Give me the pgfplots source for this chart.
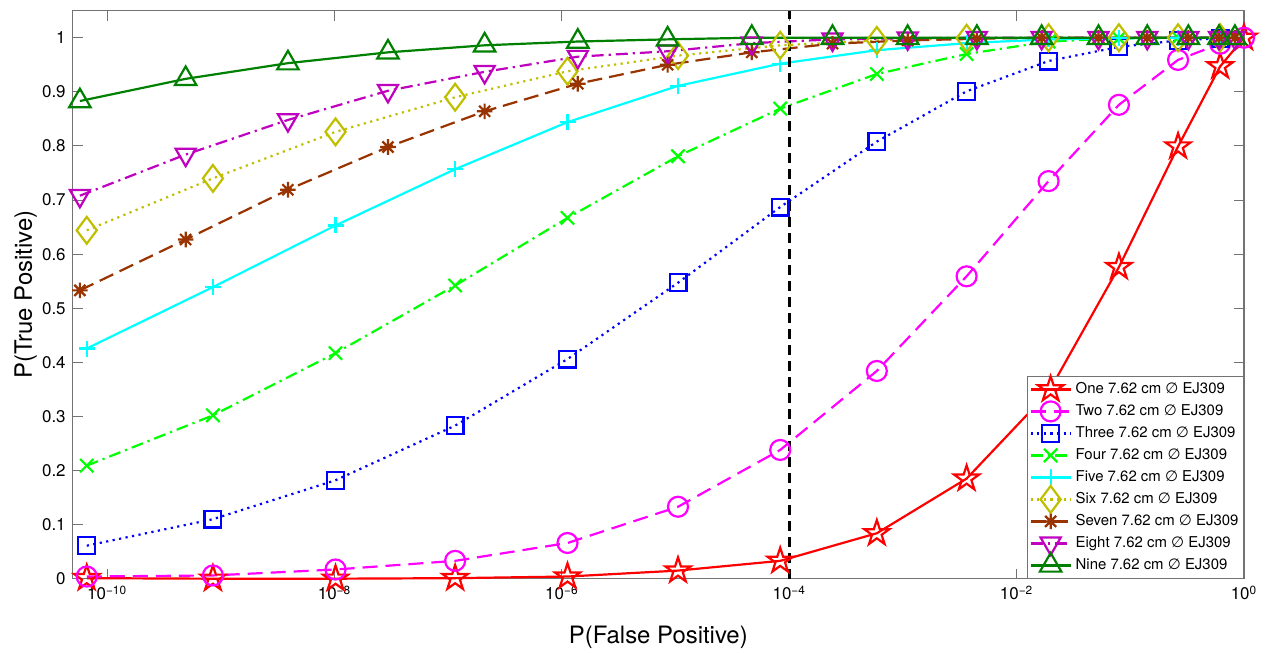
\documentclass[border=0pt]{standalone}
\usepackage{fontspec}
\setmainfont{TeX Gyre Heros}
\newfontfamily\symfont{DejaVu Sans}
\usepackage{pgfplots}
\pgfplotsset{compat=1.18}
\usepackage{pgfplotstable}
\usetikzlibrary{plotmarks}

% outlined five-pointed star
\pgfdeclareplotmark{pentagram}{%
  \pgfpathmoveto{\pgfpointpolar{90}{\pgfplotmarksize}}%
  \pgfpathlineto{\pgfpointpolar{126}{0.382\pgfplotmarksize}}%
  \pgfpathlineto{\pgfpointpolar{162}{\pgfplotmarksize}}%
  \pgfpathlineto{\pgfpointpolar{198}{0.382\pgfplotmarksize}}%
  \pgfpathlineto{\pgfpointpolar{234}{\pgfplotmarksize}}%
  \pgfpathlineto{\pgfpointpolar{270}{0.382\pgfplotmarksize}}%
  \pgfpathlineto{\pgfpointpolar{306}{\pgfplotmarksize}}%
  \pgfpathlineto{\pgfpointpolar{342}{0.382\pgfplotmarksize}}%
  \pgfpathlineto{\pgfpointpolar{18}{\pgfplotmarksize}}%
  \pgfpathlineto{\pgfpointpolar{54}{0.382\pgfplotmarksize}}%
  \pgfpathclose
  \pgfusepathqstroke}
% eight-armed asterisk (plus and cross)
\pgfdeclareplotmark{mstar}{%
  \pgfpathmoveto{\pgfqpoint{-\pgfplotmarksize}{0pt}}\pgfpathlineto{\pgfqpoint{\pgfplotmarksize}{0pt}}%
  \pgfpathmoveto{\pgfqpoint{0pt}{-\pgfplotmarksize}}\pgfpathlineto{\pgfqpoint{0pt}{\pgfplotmarksize}}%
  \pgfpathmoveto{\pgfpointpolar{45}{\pgfplotmarksize}}\pgfpathlineto{\pgfpointpolar{225}{\pgfplotmarksize}}%
  \pgfpathmoveto{\pgfpointpolar{135}{\pgfplotmarksize}}\pgfpathlineto{\pgfpointpolar{315}{\pgfplotmarksize}}%
  \pgfusepathqstroke}

\definecolor{cOne}{rgb}{1,0,0}
\definecolor{cTwo}{rgb}{1,0,1}
\definecolor{cThree}{rgb}{0,0,1}
\definecolor{cFour}{rgb}{0,1,0}
\definecolor{cFive}{rgb}{0,1,1}
\definecolor{cSix}{rgb}{0.75,0.75,0}
\definecolor{cSeven}{rgb}{0.6,0.2,0}
\definecolor{cEight}{rgb}{0.75,0,0.75}
\definecolor{cNine}{rgb}{0,0.5,0}

% detectors One to Six
\pgfplotstableread{
x         one   two   three four  five   six
6.61e-11  0.001 0.004 0.061 0.209 0.4255 0.644
8.51e-10  0.000 0.006 0.110 0.302 0.539  0.740
1.02e-8   0.000 0.017 0.182 0.417 0.653  0.826
1.15e-7   0.001 0.033 0.283 0.542 0.757  0.890
1.12e-6   0.004 0.066 0.406 0.667 0.844  0.938
1.05e-5   0.015 0.133 0.547 0.781 0.911  0.967
8.32e-5   0.033 0.238 0.687 0.869 0.952  0.986
5.89e-4   0.084 0.384 0.808 0.933 0.977  0.995
3.63e-3   0.185 0.559 0.901 0.970 0.990  0.999
1.91e-2   0.345 0.735 0.957 0.993 0.997  1.000
7.94e-2   0.576 0.876 0.983 0.999 0.999  1.000
0.263     0.799 0.959 0.995 1.000 1.000  1.000
0.617     0.947 0.989 0.999 1.000 1.000  1.000
1         1.000 1.000 nan   nan   nan    nan
}\tabA

% detectors Seven to Nine
\pgfplotstableread{
x         seven eight nine
5.75e-11  0.533 0.708 0.883
4.90e-10  0.627 0.784 0.924
3.89e-9   0.719 0.848 0.953
2.95e-8   0.798 0.902 0.973
2.09e-7   0.864 0.937 0.986
1.38e-6   0.915 0.965 0.993
8.51e-6   0.950 0.975 0.997
4.68e-5   0.973 0.990 1.000
2.40e-4   0.989 0.997 1.000
1.10e-3   0.995 0.999 1.000
4.47e-3   0.998 1.000 1.000
1.66e-2   1.000 1.000 1.000
5.25e-2   1.000 1.000 1.000
0.141     1.000 1.000 1.000
0.324     1.000 1.000 1.000
0.603     1.000 1.000 1.000
0.832     1.000 1.000 1.000
}\tabB

\begin{document}
\begin{tikzpicture}
\begin{axis}[
  name=ax,
  scale only axis, width=585.65bp, height=284bp,
  xmode=log, xmin=4.97e-11, xmax=1, ymin=0, ymax=1.05,
  xtick={1e-10,1e-8,1e-6,1e-4,1e-2,1},
  xticklabels={10\textsuperscript{−10},10\textsuperscript{−8},10\textsuperscript{−6},10\textsuperscript{−4},10\textsuperscript{−2},10\textsuperscript{0}},
  xminorticks=false, yminorticks=false,
  ytick={0,0.1,0.2,0.3,0.4,0.5,0.6,0.7,0.8,0.9,1},
  yticklabels={0,0.1,0.2,0.3,0.4,0.5,0.6,0.7,0.8,0.9,1},
  tick align=inside, major tick length=5bp,
  tick style={black!55, line width=0.5bp},
  axis line style={black!55, line width=0.6bp},
  tick label style={font=\fontsize{8.5}{10}\selectfont},
  label style={font=\fontsize{12}{14}\selectfont},
  xlabel={P(False Positive)}, ylabel={P(True Positive)},
  xlabel style={at={(axis description cs:0.5,-0.0704)}, anchor=north},
  ylabel style={at={(axis description cs:-0.0246,0.5)}, anchor=south},
  clip=false,
  legend style={at={(1,0)}, anchor=south east, draw=black!55, line width=0.5bp,
    font=\fontsize{7.5}{9}\selectfont, inner sep=1.5bp, row sep=1.2bp,
    nodes={inner sep=1bp, text height=6bp, text depth=1.8bp}},
  legend cell align=left,
  legend image code/.code={%
    \pgfinterruptboundingbox
    \draw[mark repeat=2,mark phase=2] plot coordinates {(0bp,0bp) (10bp,0bp) (20bp,0bp)};
    \endpgfinterruptboundingbox
    \path[draw=none,fill=none] (0bp,-3bp) rectangle (21.5bp,3bp);},
  every axis plot/.append style={line width=1.1bp},
  mark options={solid},
]
\addplot[color=cOne, mark=pentagram, mark size=6.6bp] table[x=x,y=one]{\tabA};
\addlegendentry{One 7.62 cm {\symfont ∅} EJ309}
\addplot[color=cTwo, dash pattern=on 7.5bp off 4bp, mark=o, mark size=5bp] table[x=x,y=two]{\tabA};
\addlegendentry{Two 7.62 cm {\symfont ∅} EJ309}
\addplot[color=cThree, dash pattern=on 1.1bp off 2.2bp, mark=square, mark size=4.2bp] table[x=x,y=three]{\tabA};
\addlegendentry{Three 7.62 cm {\symfont ∅} EJ309}
\addplot[color=cFour, dash pattern=on 6bp off 2.5bp on 1.1bp off 2.5bp, mark=x, mark size=4.7bp] table[x=x,y=four]{\tabA};
\addlegendentry{Four 7.62 cm {\symfont ∅} EJ309}
\addplot[color=cFive, mark=+, mark size=4bp] table[x=x,y=five]{\tabA};
\addlegendentry{Five 7.62 cm {\symfont ∅} EJ309}
\addplot[color=cSix, dash pattern=on 1.1bp off 2.2bp, mark=diamond, mark size=6.7bp] table[x=x,y=six]{\tabA};
\addlegendentry{Six 7.62 cm {\symfont ∅} EJ309}
\addplot[color=cSeven, dash pattern=on 7.5bp off 3.5bp, mark=mstar, mark size=3.9bp] table[x=x,y=seven]{\tabB};
\addlegendentry{Seven 7.62 cm {\symfont ∅} EJ309}
\addplot[color=cEight, dash pattern=on 6bp off 2.5bp on 1.1bp off 2.5bp, mark=triangle, mark options={solid, rotate=180}, mark size=5.8bp] table[x=x,y=eight]{\tabB};
\addlegendentry{Eight 7.62 cm {\symfont ∅} EJ309}
\addplot[color=cNine, mark=triangle, mark size=6.2bp] table[x=x,y=nine]{\tabB};
\addlegendentry{Nine 7.62 cm {\symfont ∅} EJ309}
% operating threshold at P(FP) = 1e-4
\addplot[black, line width=1.25bp, dash pattern=on 5bp off 3bp, forget plot] coordinates {(1e-4,0) (1e-4,1.05)};
\end{axis}
\pgfresetboundingbox
\path ([shift={(-36.35bp,-37.15bp)}]ax.south west) rectangle ([shift={(11bp,5.35bp)}]ax.north east);
\end{tikzpicture}
\end{document}
